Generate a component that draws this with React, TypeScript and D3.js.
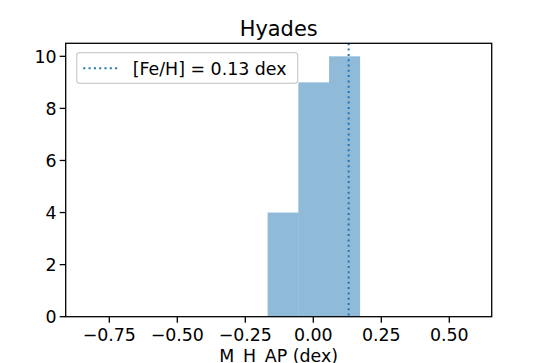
import React from "react";
import * as d3 from "d3";

const binEdges = [-0.168, -0.055, 0.058, 0.172];
const counts = [4, 9, 10];
const feH = 0.13;
const xTicks = [-0.75, -0.5, -0.25, 0, 0.25, 0.5];
const yTicks = [0, 2, 4, 6, 8, 10];
const title = "Hyades";
const xLabel = "M_H_AP (dex)";
const legendLabel = "[Fe/H] = 0.13 dex";

const W = 545;
const H = 363;
const L = 65.7, R = 491.7, T = 43.3, B = 316.7;
const FONT = "DejaVu Sans, sans-serif";
const BLUE = "#1f77b4";

const fmt = (v: number) => {
  const s = Math.abs(v).toFixed(2);
  return (v < 0 ? "\u2212" : "") + s;
};

export default function App() {
  const x = d3.scaleLinear().domain([-0.9103, 0.6559]).range([L, R]);
  const y = d3.scaleLinear().domain([0, 10.5]).range([B, T]);
  const bars = counts.map((c, i) => ({ x0: binEdges[i], x1: binEdges[i + 1], c }));
  return (
    <svg width={W} height={H} style={{ position: "absolute", left: 0, top: 0, background: "#fff" }}>
      <rect x={0} y={0} width={W} height={H} fill="#fff" />
      {bars.map((b, i) => (
        <rect key={i} x={x(b.x0)} y={y(b.c)} width={x(b.x1) - x(b.x0)} height={y(0) - y(b.c)}
          fill={BLUE} fillOpacity={0.5} />
      ))}
      <line x1={x(feH)} x2={x(feH)} y1={T} y2={B} stroke={BLUE} strokeWidth={2} strokeDasharray="2,3.3" />
      <rect x={L} y={T} width={R - L} height={B - T} fill="none" stroke="#000" strokeWidth={1.3} />
      {xTicks.map((t) => (
        <g key={t}>
          <line x1={x(t)} x2={x(t)} y1={B} y2={B + 6} stroke="#000" strokeWidth={1.3} />
          <text x={x(t)} y={341} textAnchor="middle" fontFamily={FONT} fontSize={17.4} fill="#000">{fmt(t)}</text>
        </g>
      ))}
      {yTicks.map((t) => (
        <g key={t}>
          <line x1={L - 6} x2={L} y1={y(t)} y2={y(t)} stroke="#000" strokeWidth={1.3} />
          <text x={L - 9} y={y(t) + 6.3} textAnchor="end" fontFamily={FONT} fontSize={17.4} fill="#000">{t}</text>
        </g>
      ))}
      <text x={(L + R) / 2} y={36} textAnchor="middle" fontFamily={FONT} fontSize={20.9} fill="#000">{title}</text>
      <text x={(L + R) / 2} y={361.7} textAnchor="middle" fontFamily={FONT} fontSize={17.4} fill="#000">{xLabel}</text>
      <g>
        <rect x={76.7} y={52.7} width={221} height={30.6} rx={3} fill="#fff" fillOpacity={0.8} stroke="#cccccc" strokeWidth={1.2} />
        <line x1={83.3} x2={119.3} y1={68.3} y2={68.3} stroke={BLUE} strokeWidth={2} strokeDasharray="2,3.3" />
        <text x={132.7} y={75} fontFamily={FONT} fontSize={17.4} fill="#000">{legendLabel}</text>
      </g>
    </svg>
  );
}
